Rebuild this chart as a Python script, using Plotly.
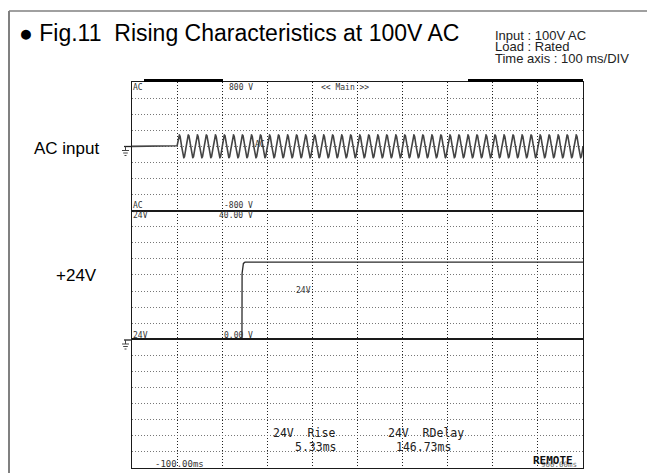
import numpy as np
import plotly.graph_objects as go
from plotly.subplots import make_subplots

# ---------------- data ----------------
TIME_RANGE_MS = [-100, 900]          # 100 ms/DIV, 10 divisions
AC_RANGE_V = [-800, 800]
DC_RANGE_V = [0, 40]
SPARE_RANGE_DIV = [0, 8]

AC_START_MS = 0.0                    # AC switched on
AC_FREQ_HZ = 50.0
AC_PEAK_V = 141.0                    # 100 V rms

V24_TIME_MS = [-100.0, 143.8, 144.1, 145.2, 147.0, 150.5, 900.0]
V24_VOLTS = [0.0, 0.0, 20.5, 22.9, 23.6, 24.0, 24.0]

RISE_MS = 5.33
RDELAY_MS = 146.73

INFO_LINES = ["Input : 100V AC", "Load : Rated", "Time axis : 100 ms/DIV"]

# ---------------- traces ----------------
t_ac = np.linspace(TIME_RANGE_MS[0], TIME_RANGE_MS[1], 6001)
v_ac = np.where(t_ac < AC_START_MS, 0.0,
                AC_PEAK_V * np.sin(2 * np.pi * AC_FREQ_HZ * (t_ac - AC_START_MS) / 1000.0))

W, H = 647, 473
L, R, T, B = 132, 583, 82, 468

fig = make_subplots(rows=3, cols=1, shared_xaxes=True, vertical_spacing=0)
fig.add_trace(go.Scatter(x=t_ac, y=v_ac, mode="lines",
                         line=dict(color="#444", width=1.6), hoverinfo="skip"), row=1, col=1)
fig.add_trace(go.Scatter(x=V24_TIME_MS, y=V24_VOLTS, mode="lines",
                         line=dict(color="#2a2a2a", width=1.3), hoverinfo="skip"), row=2, col=1)
# empty third channel (kept off-range so the grid is drawn)
fig.add_trace(go.Scatter(x=TIME_RANGE_MS, y=[-10, -10], mode="lines",
                         line=dict(color="rgba(0,0,0,0)", width=1), hoverinfo="skip"), row=3, col=1)


def px(xp):
    return (xp - L) / (R - L)


def py(yp):
    return (B - yp) / (B - T)


xaxis_style = dict(range=TIME_RANGE_MS, dtick=100, tick0=0, showgrid=True, griddash="1px,2px",
                   gridcolor="#222", gridwidth=1, showticklabels=False, ticks="",
                   zeroline=False, showline=True, mirror=True, linecolor="#1a1a1a", linewidth=1)
for i in (1, 2, 3):
    fig.update_xaxes(**xaxis_style, row=i, col=1)

yaxis_style = dict(showgrid=True, griddash="1px,2px", gridcolor="#777", gridwidth=1,
                   showticklabels=False, ticks="", zeroline=False, showline=True, mirror=True,
                   linecolor="#1a1a1a", linewidth=1)
fig.update_yaxes(**yaxis_style, range=AC_RANGE_V, dtick=200, tick0=0, row=1, col=1)
fig.update_yaxes(**yaxis_style, range=DC_RANGE_V, dtick=5, tick0=0, row=2, col=1)
fig.update_yaxes(**yaxis_style, range=SPARE_RANGE_DIV, dtick=1, tick0=0, row=3, col=1)

shapes = []
# outer frame
shapes.append(dict(type="line", xref="paper", yref="paper", x0=px(9), y0=py(11), x1=px(9), y1=py(490),
                   line=dict(color="#808080", width=2)))
shapes.append(dict(type="line", xref="paper", yref="paper", x0=px(9), y0=py(11), x1=px(680), y1=py(11),
                   line=dict(color="#808080", width=1.5)))
# top record bars
for a, b in [(144, 223), (468, 583)]:
    shapes.append(dict(type="line", xref="paper", yref="paper", x0=px(a), y0=py(80.5), x1=px(b), y1=py(80.5),
                       line=dict(color="#000", width=3)))


def ground(level_y):
    s = []
    s.append(dict(type="line", xref="paper", yref="paper", x0=px(124), y0=py(level_y), x1=px(132), y1=py(level_y),
                  line=dict(color="#222", width=1.3)))
    s.append(dict(type="line", xref="paper", yref="paper", x0=px(125.5), y0=py(level_y), x1=px(125.5),
                  y1=py(level_y + 4), line=dict(color="#444", width=1)))
    for dy, hw in [(4, 3.5), (6.5, 2.3), (9, 1.0)]:
        s.append(dict(type="line", xref="paper", yref="paper", x0=px(125.5 - hw), y0=py(level_y + dy),
                      x1=px(125.5 + hw), y1=py(level_y + dy), line=dict(color="#444", width=1)))
    return s


shapes += ground(146.5)
shapes += ground(340)

ann = []


def text(s, x, y, size, family="DejaVu Sans Mono", color="#333", bold=False):
    if bold:
        s = "<b>" + s + "</b>"
    ann.append(dict(text=s, xref="paper", yref="paper", x=px(x), y=py(y), xanchor="left", yanchor="middle",
                    showarrow=False, borderpad=0, font=dict(family=family, size=size, color=color)))


SANS = "Liberation Sans, Arial, sans-serif"
text("●\u00a0Fig.11\u00a0\u00a0Rising Characteristics at 100V AC", 18, 33, 23, SANS, "#000")
for i, line in enumerate(INFO_LINES):
    text(line, 494, 35.5 + 11.5 * i, 13, SANS, "#222")
text("AC input", 33, 148, 17, SANS, "#000")
text("+24V", 55, 275, 17, SANS, "#000")

MONO = "DejaVu Sans Mono"
text("AC", 132, 87, 8, MONO)
text("800 V", 228, 87, 8, MONO)
text("<< Main >>", 320, 87, 8, MONO)
text("AC", 132, 205, 8, MONO)
text("-800 V", 223, 205, 8, MONO)
text("24V", 132, 215.5, 8, MONO)
text("40.00 V", 218, 215.5, 8, MONO)
text("AC", 254, 144, 8, MONO)
text("24V", 295, 290, 8, MONO)
text("24V", 132, 335, 8, MONO)
text("0.00 V", 223, 335, 8, MONO)
text(f"{TIME_RANGE_MS[0]:.2f}ms", 154, 464, 9, MONO)
text("24V\u00a0\u00a0Rise", 272, 433, 11.5, MONO, "#222")
text(f"{RISE_MS:.2f}ms", 294, 447, 11.5, MONO, "#222")
text("24V\u00a0\u00a0RDelay", 387, 433, 11.5, MONO, "#222")
text(f"{RDELAY_MS:.2f}ms", 395, 447, 11.5, MONO, "#222")
text(f"{TIME_RANGE_MS[1]:.2f}ms", 540, 464, 7.5, MONO, "#666")
text("REMOTE", 532, 460, 11, MONO, "#111", bold=True)

fig.update_layout(width=W, height=H, margin=dict(l=L, r=W - R, t=T, b=H - B),
                  paper_bgcolor="white", plot_bgcolor="white", showlegend=False,
                  shapes=shapes, annotations=ann)

fig.write_html("out.html", config={"displayModeBar": False},
               post_script="document.body.style.margin='0px';document.body.style.overflow='hidden';")
